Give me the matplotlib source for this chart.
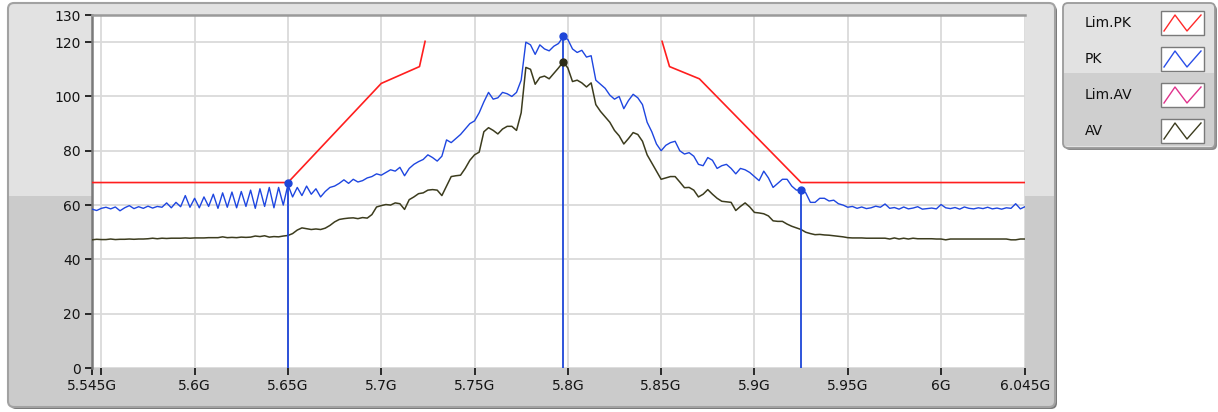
import numpy as np
import matplotlib
matplotlib.use("Agg")
import matplotlib.pyplot as plt
from matplotlib.patches import FancyBboxPatch, Rectangle
from matplotlib.ticker import FuncFormatter

# frequency axis: 201 samples, 2.5 MHz apart, 5.545 GHz .. 6.045 GHz
f_start, f_step, n_pts = 5.545, 0.0025, 201
freq = f_start + f_step * np.arange(n_pts)

pk = [58.5, 58.0, 58.8, 59.2, 58.6, 59.3, 57.9, 59.0, 59.8, 58.7, 59.4, 58.8, 59.6, 58.9, 59.5,
      59.2, 60.8, 59.0, 61.0, 59.4, 63.5, 59.2, 62.5, 59.0, 63.0, 59.5, 64.0, 58.8, 64.5, 59.2,
      64.8, 59.0, 65.0, 59.5, 65.5, 58.8, 66.0, 59.5, 66.5, 59.0, 66.5, 60.0, 67.5,
      63.0, 66.5, 63.5, 67.0, 64.0, 66.0, 63.0, 65.0, 66.5, 67.0, 68.0, 69.3, 68.0, 69.5, 68.5,
      69.0, 70.0, 70.5, 71.5, 71.0, 72.0, 73.0, 72.5, 73.9, 70.8, 73.5, 75.0, 76.0, 76.8, 78.5,
      77.5, 76.2, 78.0, 84.0, 83.0, 84.5, 86.0, 88.0, 90.0, 91.0,
      94.0, 98.0, 101.5, 99.0, 99.5, 101.5, 101.0, 100.0, 101.5, 106.0, 120.0, 119.0, 115.5,
      119.0, 117.5, 116.8, 118.5, 119.5, 122.0, 121.0, 117.5, 116.2, 117.0, 114.5, 115.0, 106.0,
      104.5, 103.0, 100.5, 99.0, 100.0, 95.5, 98.5, 100.8, 99.5, 97.0, 90.5, 87.0, 82.5, 80.0,
      82.0, 83.0, 83.5, 80.0, 78.8, 79.3, 78.0, 75.0, 74.5, 77.5, 76.5, 73.5, 74.5, 75.0, 73.5,
      71.5, 73.5, 73.0, 72.0, 70.5, 69.0, 72.5, 70.0, 66.5, 68.0, 69.5, 69.5, 67.0, 65.5, 65.7,
      64.5, 61.0, 61.0, 62.5, 62.5, 61.5, 61.8, 60.5, 60.0, 59.2, 59.5, 58.8,
      59.3, 58.7, 59.0, 59.6, 59.2, 60.4, 58.8, 59.1, 58.5, 59.3, 58.6, 58.9, 59.4, 58.5, 58.7,
      58.9, 58.6, 60.2, 59.0, 58.7, 59.1, 58.5, 59.3, 58.8, 58.6, 59.0, 58.7, 59.2, 58.6, 58.9,
      58.5, 59.0, 58.8, 60.5, 58.6, 59.4]

av = [47.2, 47.4, 47.3, 47.3, 47.5, 47.3, 47.4, 47.4, 47.5, 47.4,
      47.5, 47.5, 47.6, 47.8, 47.6, 47.8, 47.7, 47.8, 47.8, 47.8,
      47.9, 47.8, 47.9, 47.9, 47.9, 48.0, 48.0, 48.0, 48.3, 48.0,
      48.1, 48.0, 48.2, 48.1, 48.2, 48.6, 48.4, 48.7, 48.2, 48.4,
      48.3, 48.6, 48.8,
      49.5, 50.8, 51.6, 51.3, 51.0, 51.2, 51.0, 51.5, 52.5, 53.8, 54.7, 55.0, 55.2, 55.3, 55.0,
      55.4, 55.2, 56.5, 59.3, 59.8, 60.2, 60.0, 60.8, 60.5, 58.4, 62.0, 63.0, 64.2, 64.5, 65.5,
      65.7, 65.5, 63.5, 67.0, 70.5, 70.8, 71.0, 73.5, 76.5, 78.5,
      79.5, 87.0, 88.5, 87.5, 86.2, 88.0, 89.0, 89.0, 87.5, 94.0, 110.7, 110.0, 104.5, 107.0,
      107.5, 106.5, 108.5, 110.5, 112.7, 110.5, 105.5, 106.0, 105.0, 103.5, 105.0, 97.0, 94.5,
      92.5, 90.5, 87.5, 85.5, 82.5, 84.5, 86.7, 86.0, 83.5, 78.5, 75.5, 72.5, 69.5,
      70.0, 70.5, 70.5, 68.5, 66.4, 66.5, 65.5, 63.0, 64.0, 65.7, 64.0, 62.5, 61.4, 61.2, 61.0,
      58.0, 59.5, 60.8, 59.3, 57.3, 57.1, 56.8, 56.0, 54.2, 54.0, 54.0, 53.0, 52.2, 51.6, 51.0,
      50.0, 49.5, 49.1, 49.2, 49.0, 48.9, 48.7, 48.5, 48.3, 48.0, 47.9, 47.9,
      47.9, 47.8, 47.8, 47.8, 47.8, 47.8, 47.5, 47.9, 47.5, 47.8, 47.5, 47.8, 47.6, 47.6, 47.6,
      47.6, 47.5, 47.5, 47.2, 47.5, 47.5, 47.5, 47.5, 47.5, 47.5, 47.5, 47.5, 47.5, 47.5, 47.5,
      47.5, 47.5, 47.2, 47.2, 47.5, 47.5]

# peak limit line (two pieces, gap in the middle)
lim_pk_f = [5.545, 5.65, 5.70, 5.7205, 5.7235, np.nan, 5.8505, 5.8545, 5.8705, 5.925, 6.045]
lim_pk_v = [68.3, 68.3, 104.8, 111.0, 120.3, np.nan, 120.3, 111.0, 106.5, 68.3, 68.3]

# cursors
cur_f = [5.65, 5.7975, 5.925]
cur_v = [68.0, 122.3, 65.7]
av_peak_f, av_peak_v = 5.7975, 112.7

legend_names = ["Lim.PK", "PK", "Lim.AV", "AV"]
legend_colors = ["#ff2a2a", "#2a4ee8", "#e0328c", "#3c3c1e"]

W, H = 1218, 412
fig = plt.figure(figsize=(W / 100, H / 100), dpi=100)
fig.patch.set_facecolor("white")

# background / panel decoration in pixel coords
bg = fig.add_axes([0, 0, 1, 1])
bg.set_xlim(0, W)
bg.set_ylim(H, 0)
bg.axis("off")

bg.add_patch(FancyBboxPatch((10, 5), 1047, 404, boxstyle="round,pad=0,rounding_size=6",
                            fc="#7a7a7a", ec="none"))
bg.add_patch(FancyBboxPatch((8, 3), 1047, 404, boxstyle="round,pad=0,rounding_size=6",
                            fc="#e2e2e2", ec="none"))
bg.add_patch(Rectangle((9, 196), 1045, 210, fc="#cbcbcb", ec="none"))
bg.add_patch(FancyBboxPatch((8, 3), 1047, 404, boxstyle="round,pad=0,rounding_size=6",
                            fc="none", ec="#a2a2a2", lw=1.5))

# legend panel
bg.add_patch(FancyBboxPatch((1065, 5), 152, 145, boxstyle="round,pad=0,rounding_size=5",
                            fc="#8a8a8a", ec="none"))
bg.add_patch(FancyBboxPatch((1063, 3), 152, 145, boxstyle="round,pad=0,rounding_size=5",
                            fc="#e2e2e2", ec="none"))
bg.add_patch(Rectangle((1064, 73), 150, 73, fc="#cfcfcf", ec="none"))
bg.add_patch(FancyBboxPatch((1063, 3), 152, 145, boxstyle="round,pad=0,rounding_size=5",
                            fc="none", ec="#9a9a9a", lw=1.3))
for k, (name, col) in enumerate(zip(legend_names, legend_colors)):
    yc = 23 + k * 36
    bg.text(1085, yc, name, fontsize=10, color="#101010", va="center", ha="left",
            family="DejaVu Sans")
    bg.add_patch(Rectangle((1161, yc - 12), 43, 24, fc="white", ec="#7a7a7a", lw=1.0))
    zx = [1164, 1175, 1187, 1201]
    zy = [yc + 8, yc - 8, yc + 8, yc - 8]
    bg.plot(zx, zy, color=col, lw=1.0)

# plot area
L, R, T, B = 92, 1025, 15, 368
ax = fig.add_axes([L / W, 1 - B / H, (R - L) / W, (B - T) / H])
ax.set_facecolor("white")
ax.set_xlim(5.545, 6.045)
ax.set_ylim(0, 130)

ax.set_yticks([0, 20, 40, 60, 80, 100, 120, 130])
xt = [5.545, 5.55, 5.6, 5.65, 5.7, 5.75, 5.8, 5.85, 5.9, 5.95, 6.0, 6.045]
ax.set_xticks(xt)
ax.set_xticklabels(["5.545G", ""] + [f"{v:g}G" for v in xt[2:]])
ax.grid(True, color="#dadada", lw=1.3, zorder=0)
ax.tick_params(direction="out", length=5, width=1.3, color="#1a1a1a",
               labelsize=10, labelcolor="#141414", pad=3)
for s in ["right", "bottom"]:
    ax.spines[s].set_visible(False)
ax.spines["left"].set_color("#7a7a7a")
ax.spines["left"].set_linewidth(1.8)
ax.spines["top"].set_color("#9a9a9a")
ax.spines["top"].set_linewidth(1.8)

ax.plot(lim_pk_f, lim_pk_v, color="#ff1e1e", lw=1.2, zorder=3)
ax.plot(freq, av, color="#3c3c1e", lw=1.1, zorder=3)
ax.plot(freq, pk, color="#1e46e0", lw=1.0, zorder=4)

ax.vlines(cur_f, 0, cur_v, color="#1e46d8", lw=1.3, zorder=5)
ax.plot(cur_f, cur_v, "o", color="#1e46d8", ms=5, zorder=6)
ax.plot([av_peak_f], [av_peak_v], "o", color="#2c2c18", ms=5, zorder=6)

fig.savefig("out.png", dpi=100)
